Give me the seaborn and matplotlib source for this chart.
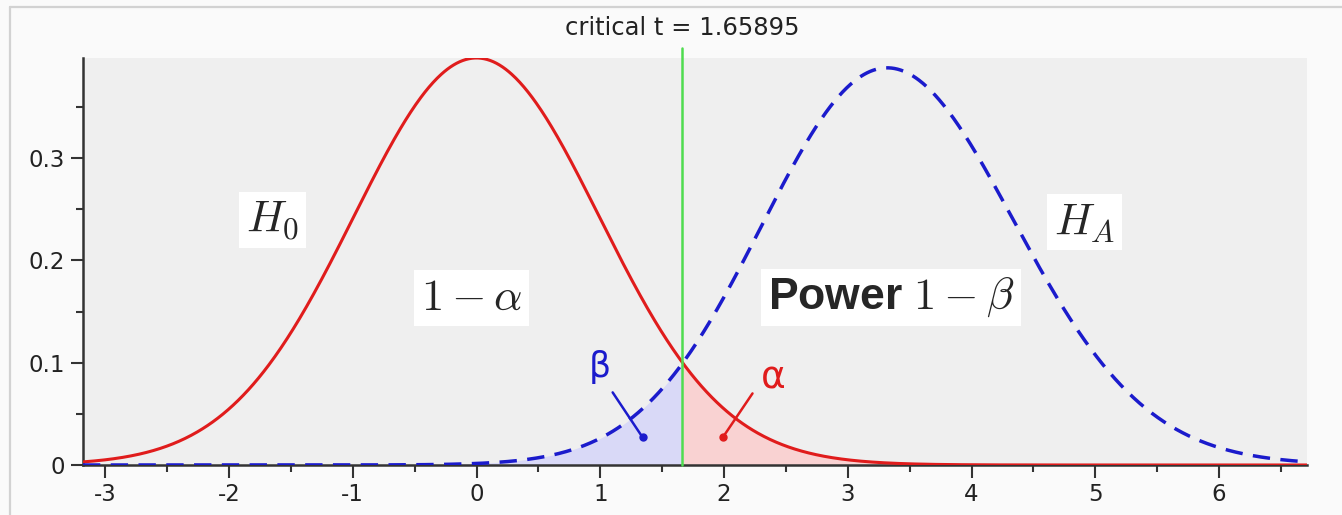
import math
import numpy as np
import pandas as pd
import matplotlib
matplotlib.use("Agg")
import matplotlib.pyplot as plt
from matplotlib.lines import Line2D
from matplotlib.ticker import MultipleLocator, FuncFormatter
import seaborn as sns

# Test setup: one-sided t test
DF = 110                 # degrees of freedom
CRIT_T = 1.65895         # critical t value
NCP = 3.34               # noncentrality under the alternative
X_RANGE = (-3.18, 6.71)

X_TICKS = [-3, -2, -1, 0, 1, 2, 3, 4, 5, 6]
Y_TICKS = [0.0, 0.1, 0.2, 0.3]

LABEL_H0 = r"$H_0$"
LABEL_HA = r"$H_A$"
LABEL_KEEP = r"$1-\alpha$"
LABEL_POWER = r"Power $1-\beta$"
LABEL_BETA = "β"
LABEL_ALPHA = "α"
TITLE = f"critical t = {CRIT_T:.5f}"


def t_pdf(x, df):
    logc = math.lgamma((df + 1) / 2) - math.lgamma(df / 2) - 0.5 * math.log(df * math.pi)
    return np.exp(logc - (df + 1) / 2 * np.log1p(x ** 2 / df))


def noncentral_t_pdf(x, df, ncp):
    # T = (Z + ncp) / S with S = sqrt(chi2_df / df); integrate over S
    s = np.linspace(0.4, 1.6, 4001)
    log_g = (np.log(2 * df * s) + (df / 2 - 1) * np.log(df * s ** 2) - df * s ** 2 / 2
             - (df / 2) * math.log(2) - math.lgamma(df / 2))
    g = np.exp(log_g)
    phi = np.exp(-0.5 * (x[:, None] * s[None, :] - ncp) ** 2) / math.sqrt(2 * math.pi)
    return np.trapezoid(phi * s * g, s, axis=1)


x = np.linspace(X_RANGE[0], X_RANGE[1], 1200)
curves = pd.DataFrame({"t": x, "h0": t_pdf(x, DF), "ha": noncentral_t_pdf(x, DF, NCP)})

sns.set_theme(style="ticks")
plt.rcParams.update({
    "font.family": ["DejaVu Sans"],
    "mathtext.fontset": "cm",
    "axes.unicode_minus": False,
})

fig = plt.figure(figsize=(13.42, 5.15), dpi=100, facecolor="#fafafa")
ax = fig.add_axes([0.0618, 0.0971, 0.9121, 0.7903])
ax.set_facecolor("#efefef")

RED = "#e01c1c"
BLUE = "#1b1bcc"
GREEN = "#4fdc4f"

# shaded tails on either side of the critical value
left = curves[curves.t <= CRIT_T]
right = curves[curves.t >= CRIT_T]
ax.fill_between(left.t, 0, left.ha, color="#d9d9f7", lw=0, zorder=1)
ax.fill_between(right.t, 0, right.h0, color="#f9d2d2", lw=0, zorder=1)

sns.lineplot(data=curves, x="t", y="h0", ax=ax, color=RED, lw=2.2, zorder=4)
sns.lineplot(data=curves, x="t", y="ha", ax=ax, color=BLUE, lw=2.5, zorder=4)
ax.lines[-1].set_dashes((5.0, 3.0))

ax.axvline(CRIT_T, ymin=0, ymax=1.025, color=GREEN, lw=1.8, clip_on=False, zorder=5)

ax.set_xlim(*X_RANGE)
ax.set_ylim(0, curves.h0.max())
ax.set_xlabel("")
ax.set_ylabel("")

ax.set_xticks(X_TICKS)
ax.set_yticks(Y_TICKS)
ax.xaxis.set_minor_locator(MultipleLocator(0.5))
ax.yaxis.set_minor_locator(MultipleLocator(0.05))
ax.yaxis.set_major_formatter(FuncFormatter(lambda v, p: f"{v:g}"))
ax.tick_params(which="major", direction="out", length=9, width=1.5, color="#333333",
               labelsize=16.5, labelcolor="#222222", pad=4)
ax.tick_params(which="minor", direction="out", length=5, width=1.5, color="#333333")

for side in ("top", "right"):
    ax.spines[side].set_visible(False)
for side in ("left", "bottom"):
    ax.spines[side].set_color("#333333")
    ax.spines[side].set_linewidth(1.8)

box = dict(boxstyle="square,pad=0.15", facecolor="white", edgecolor="none")
ax.text(-1.65, 0.2395, LABEL_H0, fontsize=32, ha="center", va="center", bbox=box, zorder=6)
ax.text(4.91, 0.2376, LABEL_HA, fontsize=32, ha="center", va="center", bbox=box, zorder=6)
ax.text(-0.04, 0.1636, LABEL_KEEP, fontsize=32, ha="center", va="center", bbox=box, zorder=6)
ax.text(3.35, 0.1636, LABEL_POWER, fontsize=32, ha="center", va="center",
        family="Liberation Sans", fontweight="bold", bbox=box, zorder=6)

# small pointers into the two tail areas
ax.plot([1.10, 1.342], [0.071, 0.027], color=BLUE, lw=1.8, zorder=6)
ax.plot([1.342], [0.027], "o", color=BLUE, ms=5, zorder=6)
ax.text(0.994, 0.0954, LABEL_BETA, color=BLUE, fontsize=25, ha="center", va="center", zorder=6)
ax.plot([2.23, 1.99], [0.070, 0.027], color=RED, lw=1.8, zorder=6)
ax.plot([1.99], [0.027], "o", color=RED, ms=5, zorder=6)
ax.text(2.40, 0.0847, LABEL_ALPHA, color=RED, fontsize=27, ha="center", va="center", zorder=6)

ax.text(CRIT_T, 1.0737, TITLE, transform=ax.get_xaxis_transform(), fontsize=17.5,
        color="#222222", ha="center", va="center")

# panel frame
fig.add_artist(Line2D([0.00745, 1.0], [0.9864, 0.9864], color="#d2d2d2", lw=1.6))
fig.add_artist(Line2D([0.00745, 0.00745], [0.0, 0.9864], color="#d2d2d2", lw=1.6))

fig.savefig("out.png", dpi=100, facecolor=fig.get_facecolor())
